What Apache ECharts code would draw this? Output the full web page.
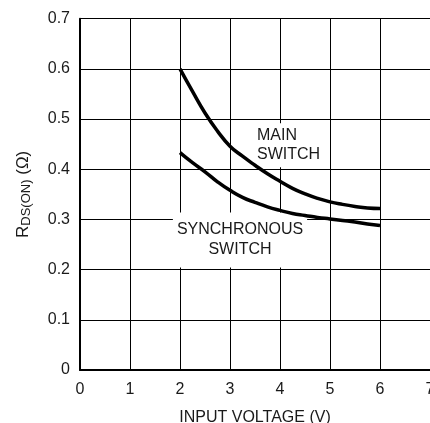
<!DOCTYPE html>
<html><head><meta charset="utf-8">
<script src="https://cdn.jsdelivr.net/npm/echarts@6/dist/echarts.min.js"></script>
<style>html,body{margin:0;padding:0;background:#fff}#c{width:430px;height:423px}</style>
</head><body><div id="c"></div>
<script>
var xTicks = [0, 1, 2, 3, 4, 5, 6, 7];
var yTicks = [0, 0.1, 0.2, 0.3, 0.4, 0.5, 0.6, 0.7];
var vin = [2, 2.25, 2.5, 2.75, 3, 3.25, 3.5, 3.75, 4, 4.25, 4.5, 4.75, 5, 5.25, 5.5, 5.75, 6];
var mainSwitch = [0.600, 0.555, 0.512, 0.476, 0.446, 0.426, 0.408, 0.391, 0.376, 0.362, 0.351, 0.342, 0.335, 0.330, 0.326, 0.323, 0.322];
var syncSwitch = [0.433, 0.413, 0.395, 0.375, 0.358, 0.344, 0.334, 0.325, 0.318, 0.312, 0.308, 0.304, 0.301, 0.298, 0.295, 0.291, 0.288];
var mainLabelPos = [3.5, 0.448];
var syncLabelPos = [3.2, 0.259];
var mainLabelText = 'MAIN\nSWITCH';
var syncLabelText = 'SYNCHRONOUS\nSWITCH';

var FONT = '"Liberation Sans", Arial, sans-serif';
var TXT = '#1a1a1a';
function pairs(xs, ys) { return xs.map(function (x, i) { return [x, ys[i]]; }); }

var chart = echarts.init(document.getElementById('c'));
chart.setOption({
  animation: false,
  backgroundColor: '#fff',
  grid: { left: 80, right: 0, top: 18.7, bottom: 53, containLabel: false, outerBoundsMode: 'none' },
  xAxis: {
    type: 'value', min: xTicks[0], max: xTicks[xTicks.length - 1], interval: 1,
    name: 'INPUT VOLTAGE (V)', nameLocation: 'middle', nameGap: 40,
    nameTextStyle: { fontFamily: FONT, fontSize: 16, color: TXT },
    axisLine: { lineStyle: { color: '#000', width: 2 } },
    axisTick: { show: false },
    axisLabel: { fontFamily: FONT, fontSize: 16, color: TXT, margin: 12 },
    splitLine: { show: true, lineStyle: { color: '#000', width: 1 } }
  },
  yAxis: {
    type: 'value', min: yTicks[0], max: yTicks[yTicks.length - 1], interval: 0.1,
    name: '{n|R}{s|DS(ON)}{n| (Ω)}', nameLocation: 'middle', nameGap: 47, nameRotate: 90,
    nameTextStyle: {
      fontFamily: FONT, fontSize: 17, color: TXT,
      rich: {
        n: { fontFamily: FONT, fontSize: 17, color: TXT },
        s: { fontFamily: FONT, fontSize: 13, color: TXT, padding: [7, 0, 0, 0] }
      }
    },
    axisLine: { show: true, lineStyle: { color: '#000', width: 2 } },
    axisTick: { show: false },
    axisLabel: { fontFamily: FONT, fontSize: 16, color: TXT, margin: 10 },
    splitLine: { show: true, lineStyle: { color: '#000', width: 1 } }
  },
  series: [
    { type: 'line', data: pairs(vin, mainSwitch), smooth: true, showSymbol: false,
      lineStyle: { color: '#000', width: 3.5 }, z: 5 },
    { type: 'line', data: pairs(vin, syncSwitch), smooth: true, showSymbol: false,
      lineStyle: { color: '#000', width: 3.5 }, z: 5 }
  ]
});

var pm = chart.convertToPixel({ gridIndex: 0 }, mainLabelPos);
var ps = chart.convertToPixel({ gridIndex: 0 }, syncLabelPos);
chart.setOption({
  graphic: [
    { type: 'text', x: pm[0], y: pm[1], z: 1,
      style: { text: mainLabelText, font: '16px ' + FONT, fill: TXT, lineHeight: 19,
        align: 'left', verticalAlign: 'middle', backgroundColor: '#fff', padding: [4, 6, 2, 2] } },
    { type: 'text', x: ps[0], y: ps[1], z: 1,
      style: { text: syncLabelText, font: '16px ' + FONT, fill: TXT, lineHeight: 20,
        align: 'center', verticalAlign: 'middle', backgroundColor: '#fff', padding: [10, 4, 5, 4] } }
  ]
});
</script></body></html>
